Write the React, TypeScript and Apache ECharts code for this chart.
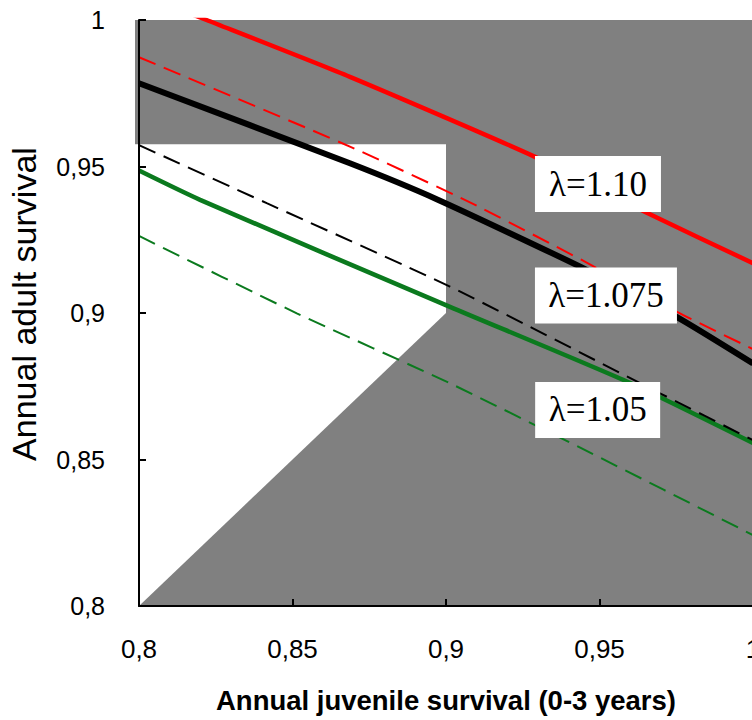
import React, { useEffect, useRef } from "react";
import * as echarts from "echarts";

// Axis ticks
const xTicks = [0.8, 0.85, 0.9, 0.95, 1.0];
const yTicks = [0.8, 0.85, 0.9, 0.95, 1.0];

// Isoclines: [juvenile survival, adult survival]
const redSolid: [number, number][] = [
  [0.8, 1.009], [0.822, 1.0], [0.8687, 0.9806], [0.929, 0.9533], [0.9654, 0.9342], [1.0, 0.917],
];
const blackSolid: [number, number][] = [
  [0.8, 0.9784], [0.8687, 0.9511], [0.8975, 0.9386], [0.9447, 0.9153], [0.9751, 0.8987], [1.0, 0.8828],
];
const greenSolid: [number, number][] = [
  [0.8, 0.9486], [0.8199, 0.9386], [0.9013, 0.9021], [0.9589, 0.8766], [1.0, 0.8556],
];
const redDashed: [number, number][] = [
  [0.8, 0.9873], [0.8687, 0.9568], [0.9073, 0.938], [0.9442, 0.9181], [0.9773, 0.8993], [1.0, 0.8877],
];
const blackDashed: [number, number][] = [
  [0.8, 0.9573], [0.8416, 0.9375], [0.9013, 0.909], [0.9697, 0.8726], [1.0, 0.8566],
];
const greenDashed: [number, number][] = [
  [0.8, 0.9263], [0.8514, 0.8999], [0.9013, 0.876], [0.9442, 0.8538], [1.0, 0.8242],
];

// Plausible (white) region
const whiteRegion: [number, number][] = [
  [0.8, 0.8], [0.9, 0.9], [0.9, 0.9576], [0.8, 0.9576],
];

const lambdaLabels = ["λ=1.10", "λ=1.075", "λ=1.05"];
const labelAnchors: [number, number][] = [
  [0.9495, 0.944], [0.9521, 0.906], [0.9494, 0.8669],
];
const labelBoxWidths = [126, 142, 125];

const GREY = "#808080";
const GREEN = "#0b7a1e";

const fmt = (v: number) => String(+v.toFixed(2)).replace(".", ",");

export default function App() {
  const ref = useRef<HTMLDivElement>(null);

  useEffect(() => {
    document.body.style.margin = "0";
    const chart = echarts.init(ref.current!, undefined, { renderer: "svg" });

    const lineSeries = (data: [number, number][], color: string, width: number, dashed: boolean, z: number) => ({
      type: "line",
      data,
      showSymbol: false,
      symbol: "none",
      smooth: 0.2,
      clip: true,
      z,
      lineStyle: {
        color,
        width,
        type: dashed ? [18, 9] : "solid",
        cap: "butt",
      },
    });

    chart.setOption({
      animation: false,
      grid: {
        left: 139,
        top: 20,
        width: 614,
        height: 586,
        show: true,
        backgroundColor: GREY,
        borderWidth: 0,
        containLabel: false,
        outerBoundsMode: "none",
      },
      xAxis: {
        type: "value",
        min: 0.8,
        max: 1.0,
        interval: 0.05,
        z: 5,
        name: "Annual juvenile survival (0-3 years)",
        nameLocation: "middle",
        nameGap: 80,
        nameTextStyle: {
          fontFamily: "Liberation Sans",
          fontWeight: "bold",
          fontSize: 27.5,
          color: "#000",
        },
        axisLine: { show: true, onZero: false, lineStyle: { color: "#000", width: 2 } },
        axisTick: { show: true, inside: true, length: 7, lineStyle: { color: "#000", width: 2 } },
        axisLabel: {
          formatter: (v: number) => fmt(v),
          fontFamily: "Liberation Sans",
          fontSize: 26,
          color: "#000",
          margin: 30,
          showMaxLabel: true,
          showMinLabel: true,
        },
        splitLine: { show: false },
      },
      yAxis: {
        type: "value",
        min: 0.8,
        max: 1.0,
        interval: 0.05,
        z: 5,
        name: "Annual adult survival",
        nameLocation: "middle",
        nameRotate: 90,
        nameGap: 98,
        nameTextStyle: {
          fontFamily: "Liberation Sans",
          fontSize: 34,
          color: "#000",
          padding: [0, 0, 0, 18],
        },
        axisLine: { show: true, onZero: false, lineStyle: { color: "#000", width: 2 } },
        axisTick: { show: true, inside: true, length: 7, lineStyle: { color: "#000", width: 2 } },
        axisLabel: {
          formatter: (v: number) => fmt(v),
          fontFamily: "Liberation Sans",
          fontSize: 25,
          color: "#000",
          margin: 34,
        },
        splitLine: { show: false },
      },
      series: [
        {
          type: "custom",
          z: 1,
          silent: true,
          data: [[0.8, 0.8]],
          renderItem: (_params: any, api: any) => {
            const pts = whiteRegion.map((p) => api.coord(p));
            const tl = api.coord([0.8, 1.0]);
            const bl = api.coord([0.8, whiteRegion[2][1]]);
            return {
              type: "group",
              children: [
                { type: "polygon", shape: { points: pts }, style: { fill: "#fff" } },
                {
                  type: "rect",
                  shape: { x: tl[0] - 4, y: tl[1], width: 4, height: bl[1] - tl[1] },
                  style: { fill: GREY },
                },
              ],
            };
          },
        },
        lineSeries(greenSolid, GREEN, 4.5, false, 2),
        lineSeries(blackSolid, "#000", 6, false, 2),
        lineSeries(redSolid, "#ff0000", 4.5, false, 2),
        lineSeries(greenDashed, GREEN, 2, true, 3),
        lineSeries(blackDashed, "#000", 2, true, 3),
        lineSeries(redDashed, "#ff0000", 2, true, 3),
        {
          type: "scatter",
          symbolSize: 0,
          z: 6,
          silent: true,
          itemStyle: { opacity: 1 },
          emphasis: { disabled: true },
          data: labelAnchors.map((c, i) => ({
            value: c,
            label: {
              show: true,
              position: "inside",
              formatter: lambdaLabels[i],
              width: labelBoxWidths[i],
              height: 56,
              lineHeight: 56,
              align: "center",
              verticalAlign: "middle",
              backgroundColor: "#fff",
              opacity: 1,
              fontFamily: "Liberation Serif",
              fontSize: 35,
              color: "#000",
            },
          })),
        },
      ],
    });

    return () => chart.dispose();
  }, []);

  return <div ref={ref} style={{ width: 752, height: 720 }} />;
}
